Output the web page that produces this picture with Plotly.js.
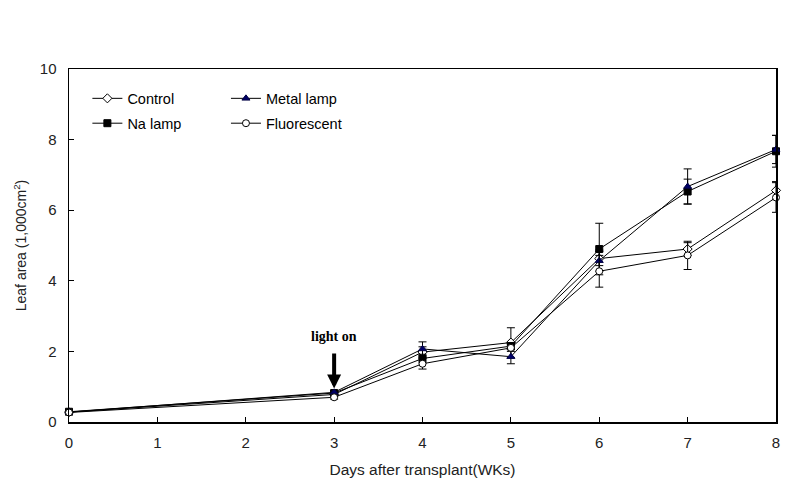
<!DOCTYPE html>
<html>
<head>
<meta charset="utf-8">
<script src="https://cdn.plot.ly/plotly-3.0.1.min.js"></script>
<style>html,body{margin:0;padding:0;background:#fff;}#chart{width:801px;height:485px;}</style>
</head>
<body>
<div id="chart"></div>
<script>
var weeks = [0, 3, 4, 5, 6, 7, 8];
var controlVals = [0.28, 0.78, 1.98, 2.25, 4.63, 4.90, 6.56];
var controlErr  = [0.03, 0.05, 0.15, 0.42, 0.20, 0.18, 0.25];
var naVals      = [0.29, 0.82, 1.80, 2.15, 4.90, 6.53, 7.67];
var naErr       = [0.03, 0.05, 0.12, 0.10, 0.73, 0.35, 0.45];
var metalVals   = [0.28, 0.84, 2.07, 1.85, 4.57, 6.67, 7.72];
var metalErr    = [0.03, 0.05, 0.20, 0.20, 0.30, 0.50, 0.40];
var fluorVals   = [0.27, 0.70, 1.65, 2.10, 4.27, 4.72, 6.36];
var fluorErr    = [0.03, 0.05, 0.15, 0.10, 0.45, 0.40, 0.42];
var names = ['Control', 'Na lamp', 'Metal lamp', 'Fluorescent'];

function tr(name, y, err, symbol, color, fill, legend) {
  return {
    x: weeks, y: y, name: name, type: 'scatter', mode: 'lines+markers',
    legend: legend, legendgroup: name, cliponaxis: false,
    line: {color: '#000', width: 1},
    marker: {symbol: symbol, size: 7, color: fill, line: {color: color, width: 1}},
    error_y: {type: 'data', array: err, visible: true, color: '#000', thickness: 1, width: 4}
  };
}
var data = [
  tr(names[0], controlVals, controlErr, 'diamond', '#000', '#fff', 'legend'),
  tr(names[1], naVals, naErr, 'square', '#000', '#000', 'legend'),
  tr(names[2], metalVals, metalErr, 'triangle-up', '#000044', '#000066', 'legend2'),
  tr(names[3], fluorVals, fluorErr, 'circle', '#000', '#fff', 'legend2')
];
var font = {family: 'Liberation Sans, Arial, sans-serif', size: 14, color: '#222'};
var legendStyle = {
  font: {family: 'Liberation Sans, Arial, sans-serif', size: 14.5, color: '#000'},
  bgcolor: 'rgba(0,0,0,0)', borderwidth: 0, tracegroupgap: 3, itemwidth: 30,
  xanchor: 'left', yanchor: 'top', yref: 'paper', xref: 'paper'
};
var layout = {
  width: 801, height: 485,
  margin: {l: 69, r: 25, t: 69, b: 63},
  paper_bgcolor: '#fff', plot_bgcolor: '#fff',
  font: font,
  showlegend: true,
  legend: Object.assign({}, legendStyle, {x: 0.026, y: 0.962}),
  legend2: Object.assign({}, legendStyle, {x: 0.222, y: 0.962}),
  xaxis: {
    range: [0, 8], tickvals: [0,1,2,3,4,5,6,7,8], ticktext: ['0','1','2','3','4','5','6','7','8'],
    ticks: 'inside', ticklen: 5, tickcolor: '#000', tickwidth: 1,
    showline: true, linecolor: '#000', linewidth: 1.5, mirror: true,
    showgrid: false, zeroline: false, ticklabelstandoff: 6,
    tickfont: {size: 15, color: '#222'},
    title: {text: 'Days after transplant(WKs)', font: {size: 15.5, color: '#222'}, standoff: 14}
  },
  yaxis: {
    range: [0, 10], tickvals: [0,2,4,6,8,10], ticktext: ['0','2','4','6','8','10'],
    ticks: 'inside', ticklen: 5, tickcolor: '#000', tickwidth: 1,
    showline: true, linecolor: '#000', linewidth: 1.5, mirror: true,
    showgrid: false, zeroline: false, ticklabelstandoff: 8,
    tickfont: {size: 15, color: '#222'},
    title: {text: 'Leaf area (1,000cm<sup>2</sup>)', font: {size: 14, color: '#222'}, standoff: 10}
  },
  annotations: [{
    x: 3, y: 0.95, xref: 'x', yref: 'y',
    ax: 0, ay: -52, showarrow: true, arrowhead: 2, arrowsize: 0.7, arrowwidth: 4, arrowcolor: '#000',
    startstandoff: 8,
    text: '<b>light on</b>', font: {family: 'Liberation Serif, Times New Roman, serif', size: 14, color: '#000'}
  }]
};
Plotly.newPlot('chart', data, layout, {displayModeBar: false, staticPlot: true});
</script>
</body>
</html>
